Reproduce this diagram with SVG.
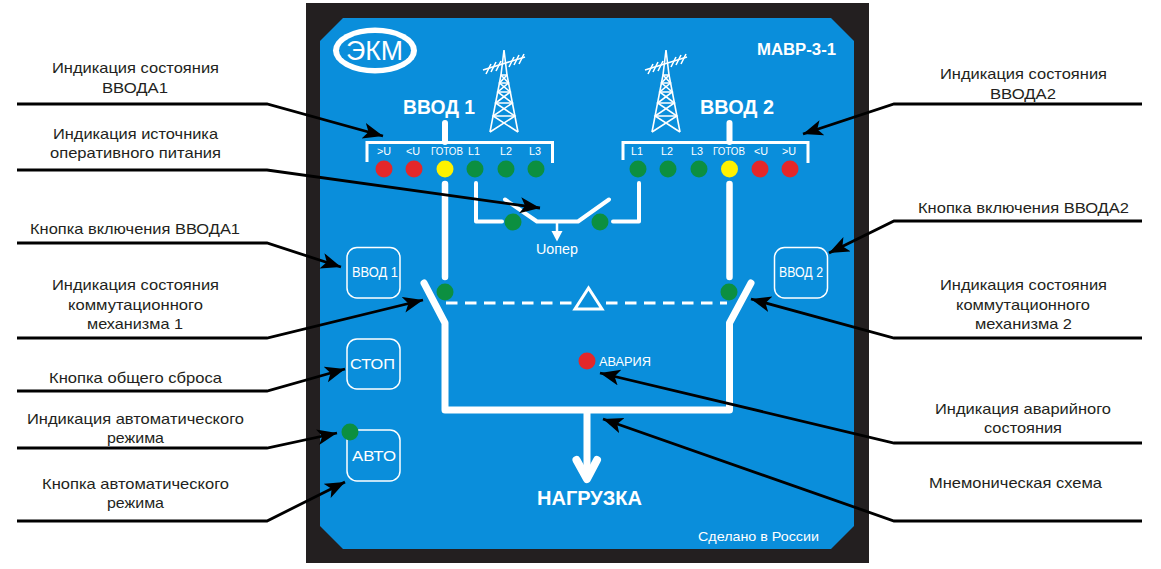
<svg xmlns="http://www.w3.org/2000/svg" xmlns:xlink="http://www.w3.org/1999/xlink" width="1161" height="569" viewBox="0 0 1161 569">
  <style>
    text { font-family: "Liberation Sans", Arial, sans-serif; }
    .cap { font-size: 14.5px; fill: #231f20; text-anchor: middle; }
    .led-label { font-size: 10.800px; fill: #fff; text-anchor: middle; }
    .head { font-size: 20.500px; font-weight: bold; fill: #fff; text-anchor: middle; }
    .btn { fill: none; stroke: #fff; stroke-width: 1.5; }
    .btn-text { font-size: 15px; fill: #fff; text-anchor: middle; }
    .green { fill: #0c8f40; }
    .red { fill: #e42729; }
    .yellow { fill: #fff200; }
    .bus { fill: none; stroke: #fff; stroke-linecap: round; stroke-linejoin: round; }
    .mast { fill: none; stroke: #fff; stroke-width: 1.6; stroke-linejoin: miter; }
    .leader { fill: none; stroke: #000; stroke-width: 2.800; marker-end: url(#tip); }
  </style>
  <defs>
    <marker id="tip" markerUnits="userSpaceOnUse" markerWidth="22" markerHeight="18" refX="20" refY="8" orient="auto">
      <path d="M20,8 L0,0 L5,8 L0,16 Z" fill="#000"/>
    </marker>
    <g id="tower">
      <path class="mast" d="M0,0 L-3,25 L-14,82 M0,0 L3,25 L14,82"/>
      <path class="mast" d="M-3,25 L4.5,33 L-6.3,42 L8.4,53 L-10.9,66 L14,82 M3,25 L-4.5,33 L6.3,42 L-8.4,53 L10.9,66 L-14,82"/>
      <path class="mast" d="M-3,25 H3 M-4.5,33 H4.5 M-6.3,42 H6.3 M-8.4,53 H8.4 M-10.9,66 H10.9"/>
      <path class="mast" d="M-21,20 L21,7"/>
      <path class="mast" d="M-18,24 L-13,14 M-13,22 L-8,12 M-8,21 L-3,11 M5,17 L10,7 M10,15 L15,5 M15,14 L20,4"/>
    </g>
  </defs>

  <rect width="1161" height="569" fill="#fff"/>

  <g id="device">
    <rect x="306" y="3" width="563" height="560" fill="#231f20"/>
    <path d="M343,18 H831 L854,41 V526 L831,549 H343 L320,526 V41 Z" fill="#0a8edb"/>
  </g>

  <g id="logo">
    <ellipse cx="375" cy="50.500" rx="42" ry="23" fill="#fff"/>
    <ellipse cx="375" cy="50.500" rx="36" ry="17.500" fill="#0a8edb"/>
    <text x="374.500" y="60" font-size="27" fill="#fff" text-anchor="middle" textLength="57" lengthAdjust="spacingAndGlyphs">ЭКМ</text>
  </g>

  <g id="model">
    <text x="796.500" y="55" font-size="16" font-weight="bold" fill="#fff" text-anchor="middle" textLength="79" lengthAdjust="spacingAndGlyphs">МАВР-3-1</text>
  </g>

  <use id="tower1" xlink:href="#tower" href="#tower" x="504" y="50"/>
  <use id="tower2" xlink:href="#tower" href="#tower" x="666" y="50"/>

  <g id="mnemonic">
    <text class="head" x="439" y="114" textLength="72" lengthAdjust="spacingAndGlyphs">ВВОД 1</text>
    <text class="head" x="737" y="114" textLength="74" lengthAdjust="spacingAndGlyphs">ВВОД 2</text>
    <path class="bus" stroke-width="6" d="M445,123 V142 M729.500,123 V142"/>
    <path d="M367,162 V142.500 H552.500 V163 M623,160 V142.500 H808 V163" fill="none" stroke="#fff" stroke-width="3"/>
    <path class="bus" stroke-width="6.500" d="M445,184 V277 M729.500,184 V277"/>
    <path class="bus" stroke-width="4" d="M476,183 V221.500 H502 M613,221.500 H639 V183"/>
    <path class="bus" stroke-width="4" d="M505,199.500 L537,221.500 H578 L609,199.500"/>
    <path d="M557,221 V233" stroke="#fff" stroke-width="2.500" fill="none"/>
    <path d="M551.500,231 H562.500 L557,241.500 Z" fill="#fff"/>
    <path d="M446,303 H574 M606,303 H727" stroke="#fff" stroke-width="3" stroke-dasharray="11.500 7.500" fill="none"/>
    <path d="M588.500,288 L575,309 H602 Z" fill="none" stroke="#fff" stroke-width="3"/>
    <path class="bus" stroke-width="7" d="M424,283 L445,323 V410 H729.500 V323 L751,283"/>
    <path class="bus" stroke-width="7" d="M587,411 V476"/>
    <path class="bus" stroke-width="8" d="M576.500,460 L587,479 L597,460"/>
    <text class="head" x="589.500" y="505" textLength="105" lengthAdjust="spacingAndGlyphs">НАГРУЗКА</text>
    <text x="557" y="254" font-size="14.500" fill="#fff" text-anchor="middle" textLength="42" lengthAdjust="spacingAndGlyphs">Uопер</text>
    <text x="625" y="366" font-size="12" fill="#fff" text-anchor="middle" textLength="52" lengthAdjust="spacingAndGlyphs">АВАРИЯ</text>
    <text x="758.500" y="541" font-size="13.500" fill="#fff" text-anchor="middle" textLength="121" lengthAdjust="spacingAndGlyphs">Сделано в России</text>
  </g>

  <g id="indicators-input1">
    <text class="led-label" x="384" y="155">&gt;U</text>
    <text class="led-label" x="413" y="155">&lt;U</text>
    <text class="led-label" x="447" y="155" textLength="32" lengthAdjust="spacingAndGlyphs">ГОТОВ</text>
    <text class="led-label" x="474" y="155">L1</text>
    <text class="led-label" x="506" y="155">L2</text>
    <text class="led-label" x="535" y="155">L3</text>
    <circle class="red" cx="384" cy="169" r="8.500"/>
    <circle class="red" cx="414" cy="169" r="8.500"/>
    <circle class="yellow" cx="445" cy="169" r="8.500"/>
    <circle class="green" cx="475" cy="169" r="8.500"/>
    <circle class="green" cx="506" cy="169" r="8.500"/>
    <circle class="green" cx="536" cy="169" r="8.500"/>
  </g>

  <g id="indicators-input2">
    <text class="led-label" x="637" y="155">L1</text>
    <text class="led-label" x="667" y="155">L2</text>
    <text class="led-label" x="697" y="155">L3</text>
    <text class="led-label" x="729" y="155" textLength="32" lengthAdjust="spacingAndGlyphs">ГОТОВ</text>
    <text class="led-label" x="761" y="155">&lt;U</text>
    <text class="led-label" x="789" y="155">&gt;U</text>
    <circle class="green" cx="638" cy="169" r="8.500"/>
    <circle class="green" cx="668" cy="169" r="8.500"/>
    <circle class="green" cx="699" cy="169" r="8.500"/>
    <circle class="yellow" cx="729.500" cy="169" r="8.500"/>
    <circle class="red" cx="760" cy="169" r="8.500"/>
    <circle class="red" cx="790" cy="169" r="8.500"/>
  </g>

  <g id="indicators-supply">
    <circle class="green" cx="513" cy="222" r="8.500"/>
    <circle class="green" cx="600" cy="222" r="8.500"/>
  </g>
  <g id="indicators-switch">
    <circle class="green" cx="445" cy="292" r="8.500"/>
    <circle class="green" cx="729" cy="292" r="8.500"/>
  </g>
  <g id="indicator-alarm">
    <circle class="red" cx="587" cy="361" r="8.500"/>
  </g>

  <g id="button-input1">
    <rect class="btn" x="347" y="247.500" width="53" height="50.500" rx="10"/>
    <text class="btn-text" x="375" y="277" textLength="46" lengthAdjust="spacingAndGlyphs">ВВОД 1</text>
  </g>
  <g id="button-input2">
    <rect class="btn" x="774.500" y="247.500" width="53" height="50.500" rx="10"/>
    <text class="btn-text" x="801" y="277" textLength="44" lengthAdjust="spacingAndGlyphs">ВВОД 2</text>
  </g>
  <g id="button-stop">
    <rect class="btn" x="347" y="339" width="53" height="50" rx="10"/>
    <text class="btn-text" x="372.500" y="369" textLength="45" lengthAdjust="spacingAndGlyphs">СТОП</text>
  </g>
  <g id="button-auto">
    <rect class="btn" x="347" y="430" width="53" height="51" rx="10"/>
    <text class="btn-text" x="374" y="461" textLength="44" lengthAdjust="spacingAndGlyphs">АВТО</text>
    <circle class="green" cx="350" cy="432" r="8.500"/>
  </g>

  <g id="connectors">
    <path class="leader" d="M17,104 H267 L383,136"/>
    <path class="leader" d="M17,170 H267 L540,208"/>
    <path class="leader" d="M17,243 H267 L341,267"/>
    <path class="leader" d="M17,338 H267 L423,300"/>
    <path class="leader" d="M17,391 H267 L345,369"/>
    <path class="leader" d="M17,448 H267 L337,433"/>
    <path class="leader" d="M17,521 H267 L345,482"/>
    <path class="leader" d="M1142,104 H894 L803,134"/>
    <path class="leader" d="M1142,221 H894 L829,253"/>
    <path class="leader" d="M1142,338 H894 L751,299"/>
    <path class="leader" d="M1142,443 H894 L600,373"/>
    <path class="leader" d="M1142,521 H894 L603,419"/>
  </g>

  <g id="captions-left">
    <text class="cap" x="135.500" y="73" textLength="167" lengthAdjust="spacingAndGlyphs">Индикация состояния</text>
    <text class="cap" x="135" y="93" textLength="66" lengthAdjust="spacingAndGlyphs">ВВОДА1</text>
    <text class="cap" x="135.500" y="139" textLength="165" lengthAdjust="spacingAndGlyphs">Индикация источника</text>
    <text class="cap" x="135.500" y="158" textLength="171" lengthAdjust="spacingAndGlyphs">оперативного питания</text>
    <text class="cap" x="135" y="234" textLength="210" lengthAdjust="spacingAndGlyphs">Кнопка включения ВВОДА1</text>
    <text class="cap" x="135.500" y="290" textLength="167" lengthAdjust="spacingAndGlyphs">Индикация состояния</text>
    <text class="cap" x="135.500" y="310" textLength="135" lengthAdjust="spacingAndGlyphs">коммутационного</text>
    <text class="cap" x="135" y="329" textLength="96" lengthAdjust="spacingAndGlyphs">механизма 1</text>
    <text class="cap" x="135.500" y="383" textLength="173" lengthAdjust="spacingAndGlyphs">Кнопка общего сброса</text>
    <text class="cap" x="135.500" y="424" textLength="217" lengthAdjust="spacingAndGlyphs">Индикация автоматического</text>
    <text class="cap" x="135.500" y="443" textLength="57" lengthAdjust="spacingAndGlyphs">режима</text>
    <text class="cap" x="135.500" y="489" textLength="187" lengthAdjust="spacingAndGlyphs">Кнопка автоматического</text>
    <text class="cap" x="135.500" y="508" textLength="57" lengthAdjust="spacingAndGlyphs">режима</text>
  </g>

  <g id="captions-right">
    <text class="cap" x="1023.500" y="79" textLength="167" lengthAdjust="spacingAndGlyphs">Индикация состояния</text>
    <text class="cap" x="1023" y="99" textLength="66" lengthAdjust="spacingAndGlyphs">ВВОДА2</text>
    <text class="cap" x="1023.500" y="213" textLength="211" lengthAdjust="spacingAndGlyphs">Кнопка включения ВВОДА2</text>
    <text class="cap" x="1023.500" y="290" textLength="167" lengthAdjust="spacingAndGlyphs">Индикация состояния</text>
    <text class="cap" x="1023" y="310" textLength="134" lengthAdjust="spacingAndGlyphs">коммутационного</text>
    <text class="cap" x="1023.500" y="329" textLength="97" lengthAdjust="spacingAndGlyphs">механизма 2</text>
    <text class="cap" x="1023" y="414" textLength="176" lengthAdjust="spacingAndGlyphs">Индикация аварийного</text>
    <text class="cap" x="1023" y="433" textLength="78" lengthAdjust="spacingAndGlyphs">состояния</text>
    <text class="cap" x="1015.500" y="488" textLength="173" lengthAdjust="spacingAndGlyphs">Мнемоническая схема</text>
  </g>
</svg>
